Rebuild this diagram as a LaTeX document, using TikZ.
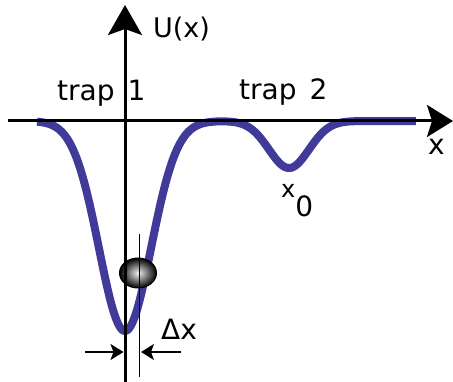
\documentclass[tikz,border=0pt]{standalone}
\usepackage{fontspec}
\setmainfont{DejaVu Sans}
\usetikzlibrary{arrows.meta}
\definecolor{curveblue}{RGB}{64,58,152}
\tikzset{
  axisline/.style={line width=3pt, black},
  thinline/.style={line width=1.5pt, black},
  txt/.style={inner sep=0pt, font=\fontsize{28}{32}\selectfont},
}
\begin{document}
\begin{tikzpicture}[x=1pt,y=-1pt]
\useasboundingbox (0,0) rectangle (453,382);
% potential curve
\draw[curveblue, line width=8pt, line join=round]
  plot[domain=37:416, samples=300, smooth]
  (\x, {121+210*exp(-((\x-125)/26)*((\x-125)/26)/2)+47*exp(-((\x-289)/20)*((\x-289)/20)/2)});
% particle
\shade[inner color=gray!12, outer color=black] (138,273) ellipse [x radius=18.5, y radius=15];
\draw[black, line width=1pt] (138,273) ellipse [x radius=18.5, y radius=15];
% coordinates
\coordinate (ybot) at (125,382);
\coordinate (ytop) at (125,5);
\coordinate (xl) at (8,121);
\coordinate (xr) at (453,121);
\coordinate (tt) at (139.5,234);
\coordinate (tb) at (139.5,377);
\coordinate (al) at (85,352);
\coordinate (alt) at (123.5,352);
\coordinate (ar) at (181,352);
\coordinate (art) at (141,352);
% axes
\draw[axisline, -{Stealth[length=30pt,width=34pt,inset=6pt]}] (ybot) -- (ytop);
\draw[axisline, -{Stealth[length=26pt,width=32pt,inset=5pt]}] (xl) -- (xr);
% delta x
\draw[thinline] (tt) -- (tb);
\draw[thinline, -{Stealth[length=13pt,width=16pt,inset=3pt]}] (al) -- (alt);
\draw[thinline, -{Stealth[length=13pt,width=16pt,inset=3pt]}] (ar) -- (art);
% labels
\node[txt, font=\fontsize{27}{31}\selectfont, anchor=base west] (U) at (153,37.5) {U(x)};
\node[txt, anchor=base west] (t1) at (57,101) {\spaceskip=13pt trap 1};
\node[txt, anchor=base west] (t2) at (239,100) {\spaceskip=13pt trap 2};
\node[txt, anchor=base west] (xlab) at (428,155) {x};
\node[txt, anchor=base west] (x0) at (281,198) {{\fontsize{24}{28}\selectfont x}\raisebox{-19pt}{0}};
\node[txt, anchor=base west] (dx) at (161,340) {Δx};
\end{tikzpicture}
\end{document}
